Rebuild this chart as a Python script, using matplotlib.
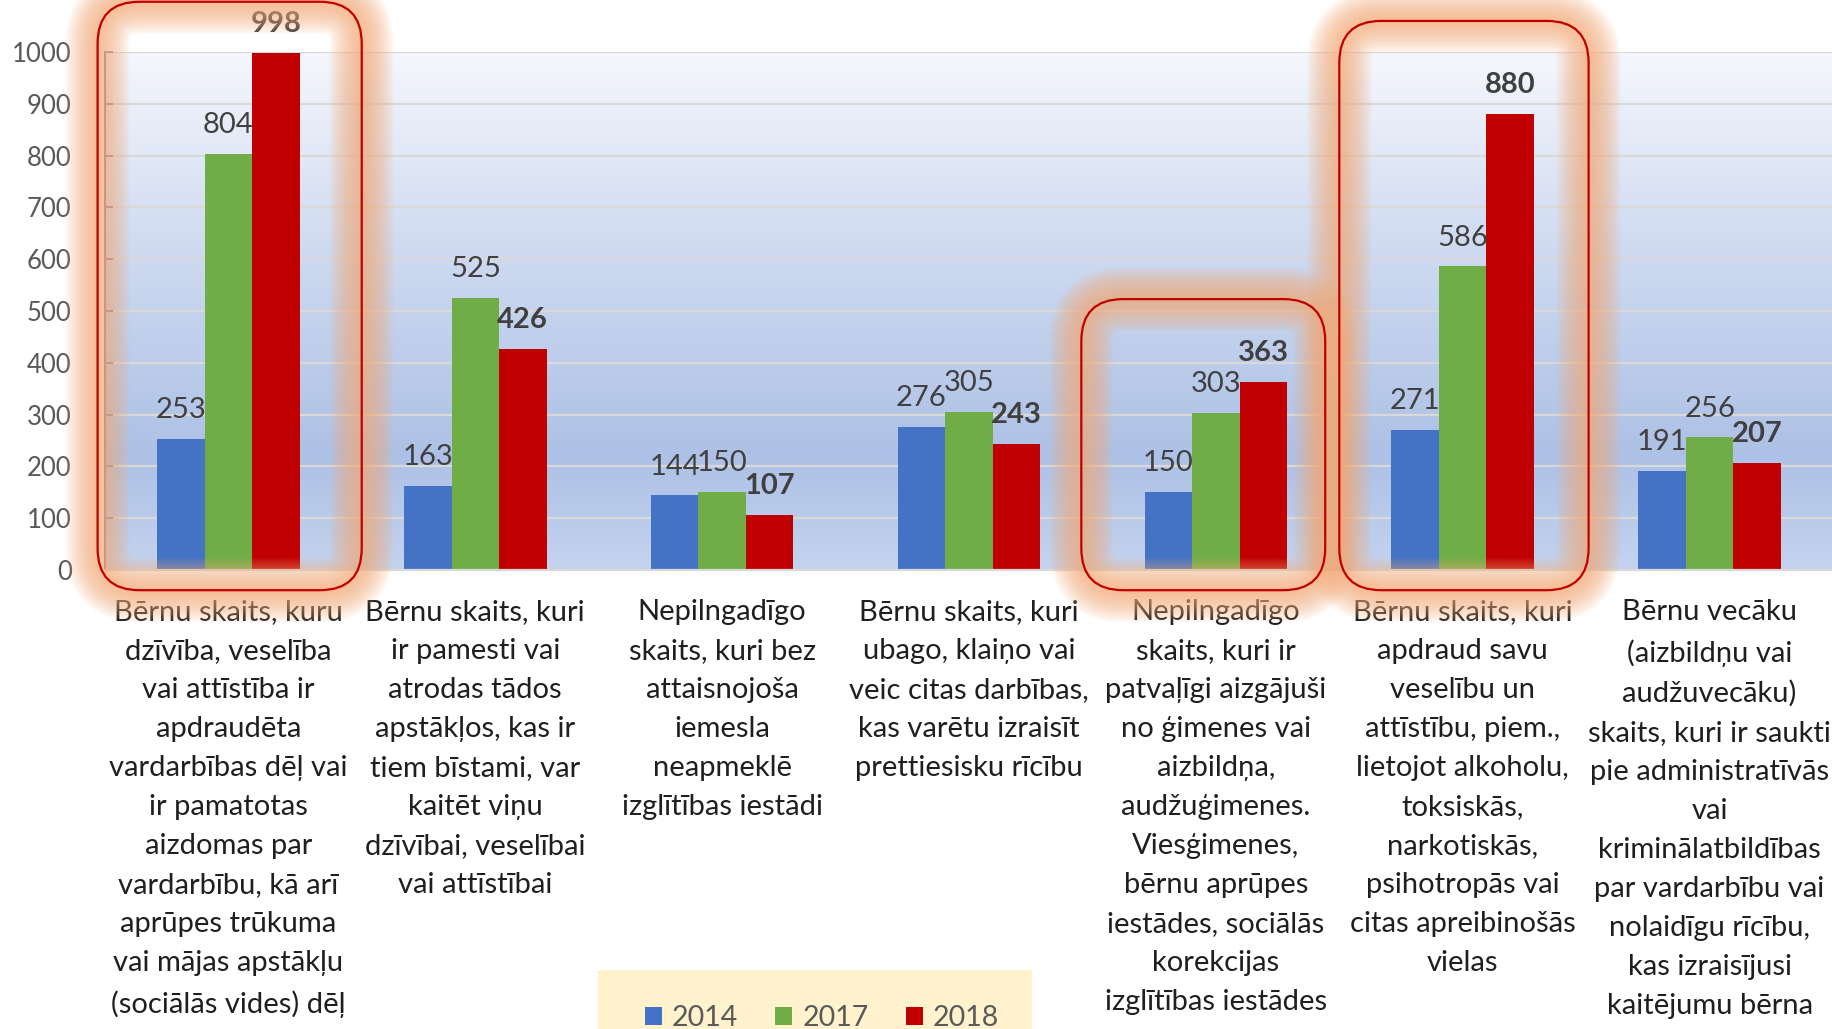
import numpy as np
import matplotlib
matplotlib.use('Agg')
import matplotlib.pyplot as plt
from matplotlib.colors import LinearSegmentedColormap
from matplotlib.patches import FancyBboxPatch, Patch, Rectangle
from matplotlib.transforms import IdentityTransform

plt.rcParams['font.family'] = ['Lato', 'DejaVu Sans']

# data
years = ['2014', '2017', '2018']
values_2014 = [253, 163, 144, 276, 150, 271, 191]
values_2017 = [804, 525, 150, 305, 303, 586, 256]
values_2018 = [998, 426, 107, 243, 363, 880, 207]
categories = [
    'Bērnu skaits, kuru\ndzīvība, veselība\nvai attīstība ir\napdraudēta\nvardarbības dēļ vai\n'
    'ir pamatotas\naizdomas par\nvardarbību, kā arī\naprūpes trūkuma\nvai mājas apstākļu\n'
    '(sociālās vides) dēļ',
    'Bērnu skaits, kuri\nir pamesti vai\natrodas tādos\napstākļos, kas ir\ntiem bīstami, var\n'
    'kaitēt viņu\ndzīvībai, veselībai\nvai attīstībai',
    'Nepilngadīgo\nskaits, kuri bez\nattaisnojoša\niemesla\nneapmeklē\nizglītības iestādi',
    'Bērnu skaits, kuri\nubago, klaiņo vai\nveic citas darbības,\nkas varētu izraisīt\n'
    'prettiesisku rīcību',
    'Nepilngadīgo\nskaits, kuri ir\npatvaļīgi aizgājuši\nno ģimenes vai\naizbildņa,\n'
    'audžuģimenes.\nViesģimenes,\nbērnu aprūpes\niestādes, sociālās\nkorekcijas\n'
    'izglītības iestādes',
    'Bērnu skaits, kuri\napdraud savu\nveselību un\nattīstību, piem.,\nlietojot alkoholu,\n'
    'toksiskās,\nnarkotiskās,\npsihotropās vai\ncitas apreibinošās\nvielas',
    'Bērnu vecāku\n(aizbildņu vai\naudžuvecāku)\nskaits, kuri ir saukti\npie administratīvās\n'
    'vai\nkriminālatbildības\npar vardarbību vai\nnolaidīgu rīcību,\nkas izraisījusi\n'
    'kaitējumu bērna',
]
highlighted = [0, 4, 5]

colors = ['#4472c4', '#70ad47', '#c00000']
W, H = 1833, 1029

fig = plt.figure(figsize=(W / 100, H / 100), dpi=100)
ax = fig.add_axes([105 / W, 459 / H, 1728 / W, 518 / H])

x = np.arange(len(categories))
bw = 0.1925
series = [values_2014, values_2017, values_2018]

# plot area gradient
bg = LinearSegmentedColormap.from_list(
    'bg', [(0, '#c4d3ee'), (0.22, '#adc1e6'), (0.6, '#cdd9f0'), (1, '#f5f7fc')])
ax.imshow(np.linspace(0, 1, 256).reshape(-1, 1), origin='lower', cmap=bg,
          extent=(-0.5, len(categories) - 0.5, 0, 1000), aspect='auto', zorder=0)

for i, (vals, c) in enumerate(zip(series, colors)):
    pos = x + (i - 1) * bw
    ax.bar(pos, vals, width=bw, color=c, zorder=2)
    for px, v in zip(pos, vals):
        ax.annotate(str(v), (px, v), xytext=(0, 15), textcoords='offset points',
                    ha='center', va='baseline', fontsize=21, color='#404040',
                    fontweight='bold' if i == 2 else 'normal', annotation_clip=False)

ax.set_xlim(-0.5, len(categories) - 0.5)
ax.set_ylim(0, 1000)
ax.set_yticks(range(0, 1001, 100))
ax.yaxis.grid(True, color='#d9d9d9', lw=1.6, zorder=1)
ax.set_axisbelow(True)
ax.tick_params(axis='y', direction='in', length=6, width=1.3, color='#868098',
               labelsize=18.5, labelcolor='#595959', pad=24)
ax.set_xticks(x)
ax.set_xticklabels(categories, fontsize=21, color='#1f1f1f', linespacing=1.62)
ax.tick_params(axis='x', length=0, pad=21)
for s in ['top', 'right']:
    ax.spines[s].set_visible(False)
ax.spines['bottom'].set_color('#d9d9d9')
ax.spines['bottom'].set_linewidth(1.6)
ax.spines['left'].set_color('#868098')
ax.spines['left'].set_linewidth(1.5)

# highlight frames with orange glow
frames = {0: (-0.53, 0.54, 1097), 4: (3.455, 4.443, 523), 5: (4.5, 5.51, 1060)}
for k in highlighted:
    x0, x1, top = frames[k]
    (p0x, p0y) = ax.transData.transform((x0, -39))
    (p1x, p1y) = ax.transData.transform((x1, top))
    for lw in np.arange(64, 0, -4):
        fig.add_artist(FancyBboxPatch((p0x, p0y), p1x - p0x, p1y - p0y,
                                      boxstyle='round,pad=0,rounding_size=42',
                                      transform=IdentityTransform(), fill=False,
                                      ec='#f6ac78', lw=lw * 0.72, alpha=0.08, zorder=5))
    fig.add_artist(FancyBboxPatch((p0x, p0y), p1x - p0x, p1y - p0y,
                                  boxstyle='round,pad=0,rounding_size=42',
                                  transform=IdentityTransform(), fill=False,
                                  ec='#c00000', lw=1.6, zorder=6))

# legend on a beige band cut by the bottom edge
fig.add_artist(Rectangle((598 / W, 0), 434 / W, 59 / H, transform=fig.transFigure,
                         facecolor='#fff2cc', edgecolor='none', zorder=0))
handles = [Patch(facecolor=c) for c in colors]
fig.legend(handles, years, loc='center', bbox_to_anchor=(822 / W, 1 - 1018 / H), ncol=3,
           frameon=False, fontsize=20.5, labelcolor='#595959', handlelength=0.6,
           handleheight=0.6, handletextpad=0.35, columnspacing=1.3)

fig.savefig('out.png', dpi=100)
